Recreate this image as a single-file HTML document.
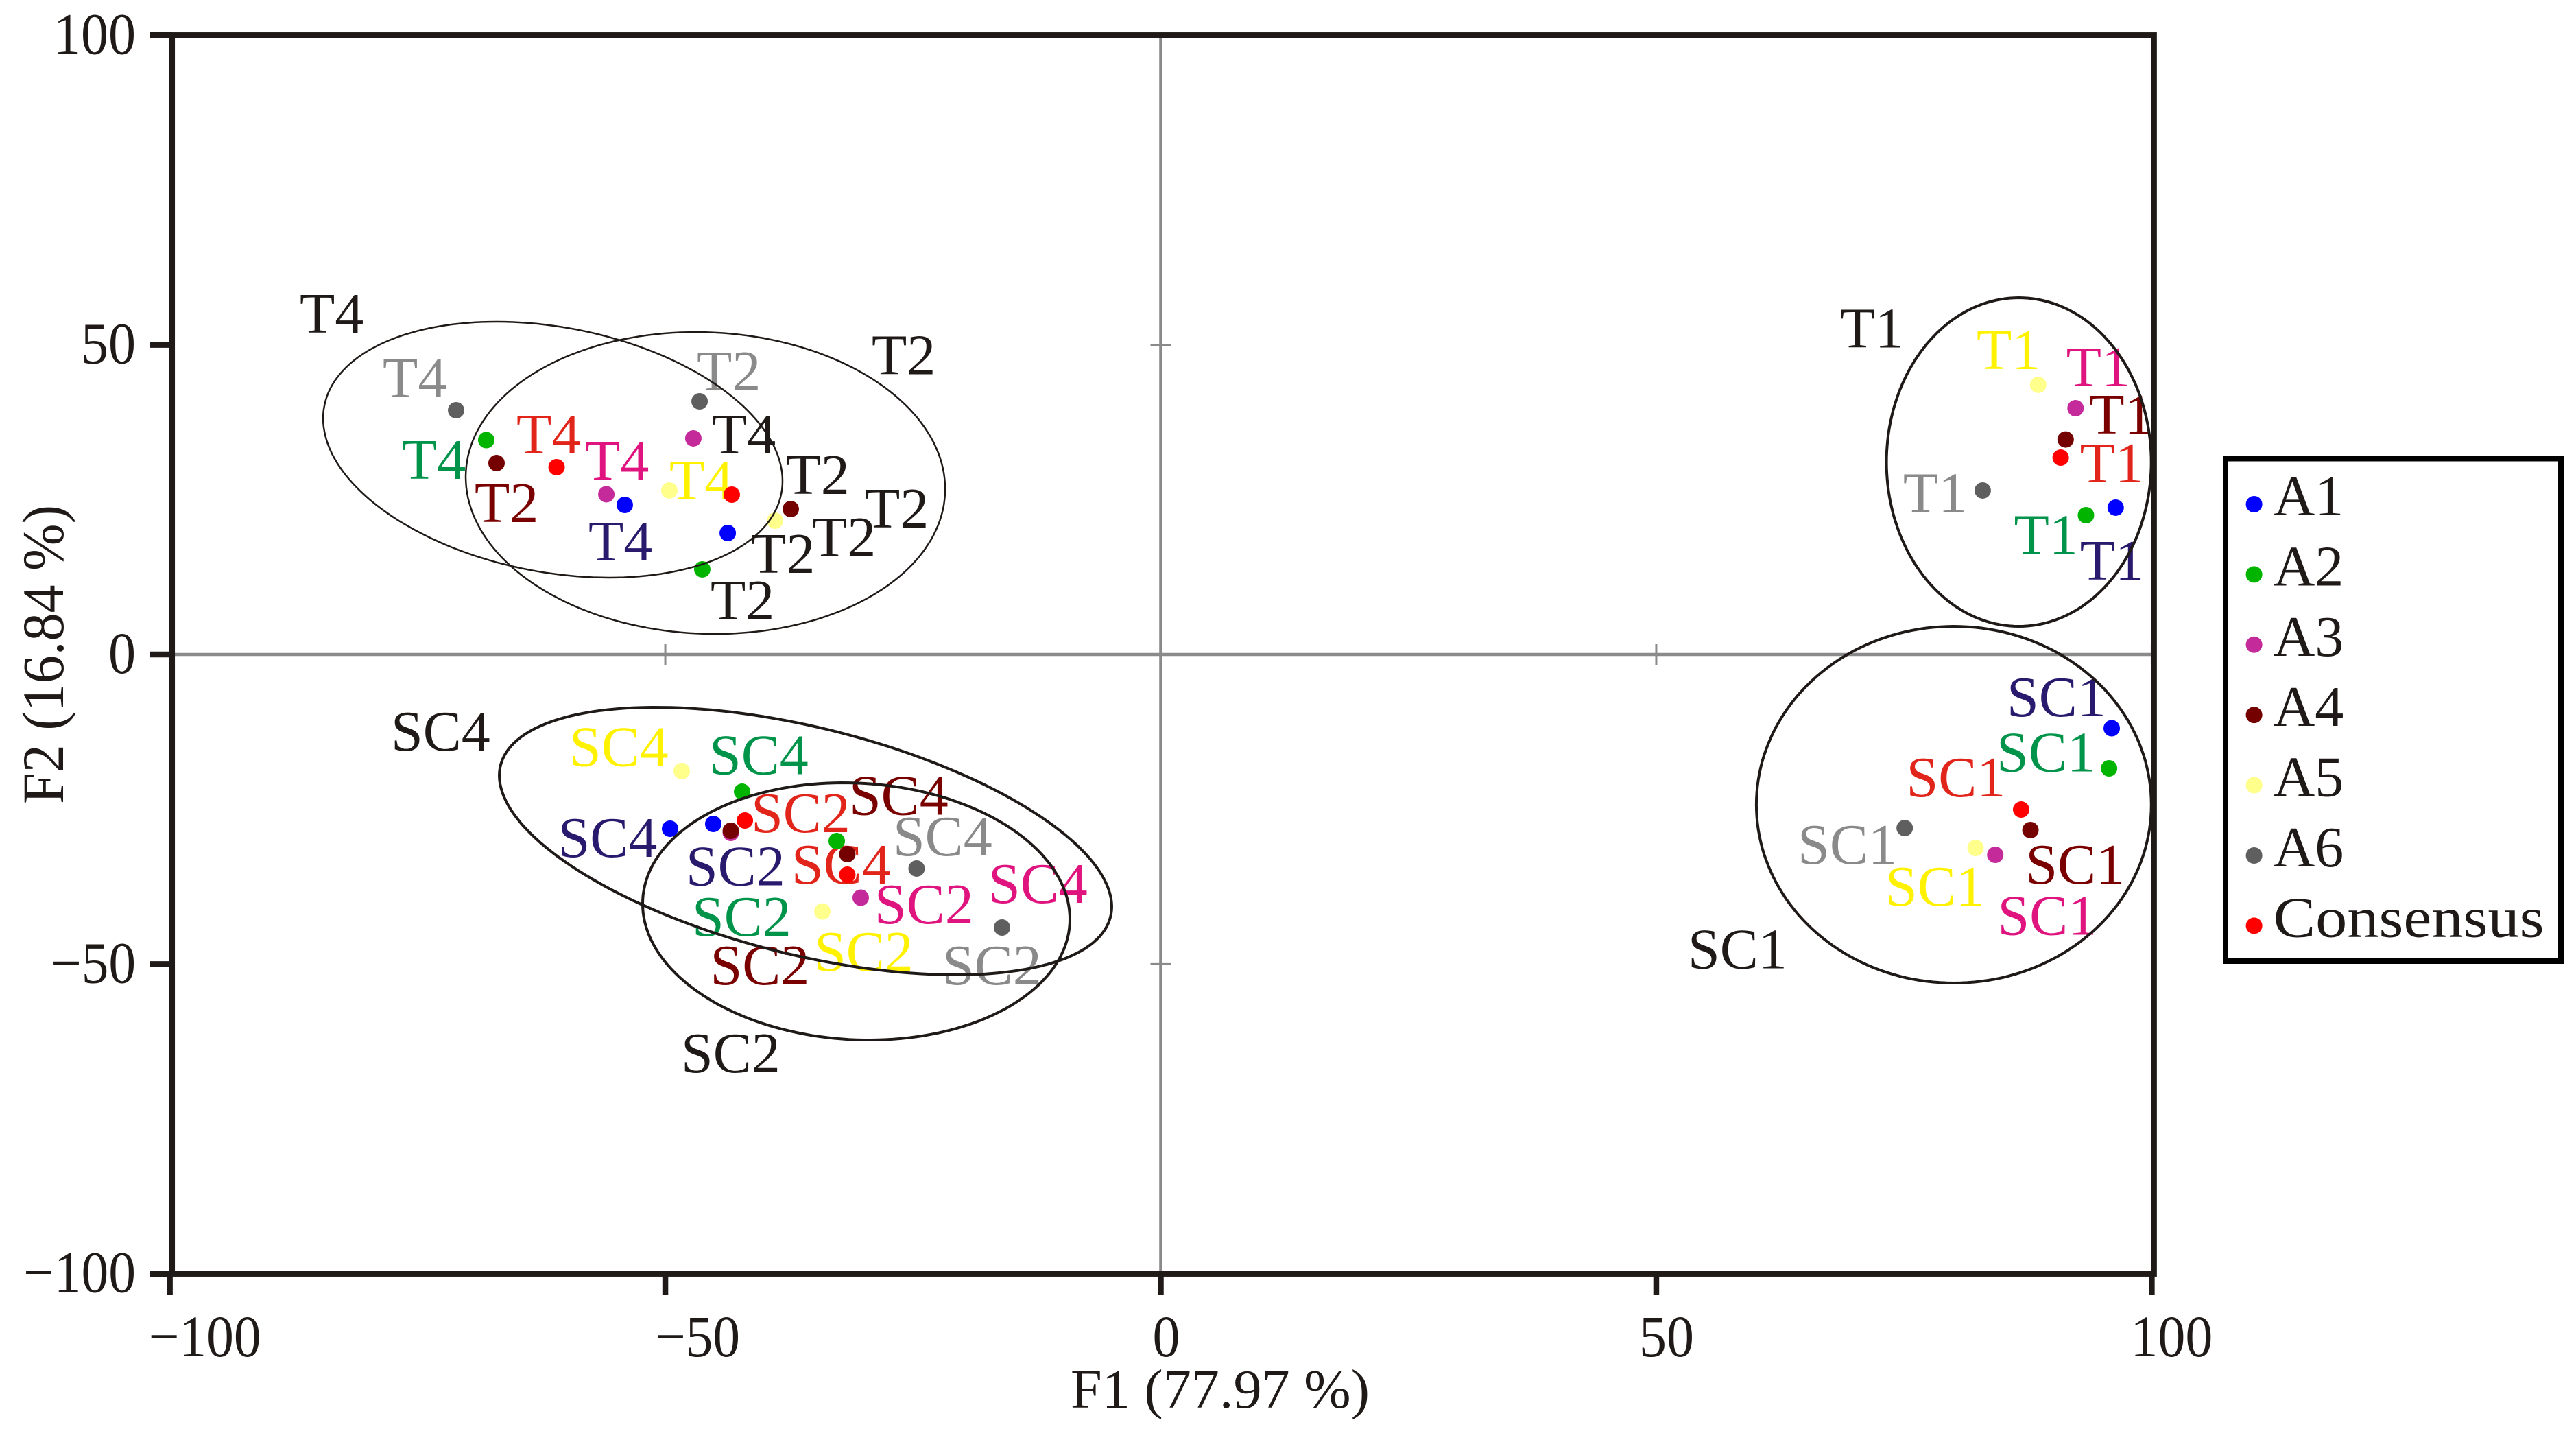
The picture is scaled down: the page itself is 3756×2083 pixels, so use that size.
<!DOCTYPE html>
<html lang="en">
<head>
<meta charset="utf-8">
<title>Projective map F1 vs F2</title>
<style>
html,body{margin:0;padding:0;background:#fff;width:3756px;height:2083px;overflow:hidden}
svg{display:block}
text{font-family:"Liberation Serif",serif;fill:#1f1a17}
</style>
</head>
<body>
<svg id="chart" xmlns="http://www.w3.org/2000/svg" width="3756" height="2083" viewBox="0 0 3756 2083">
  <rect x="0" y="0" width="3756" height="2083" fill="#ffffff"/>
  <g id="zero-lines"></g>
  <g id="labels"></g>
  <g id="dots"></g>
  <g id="ellipses"></g>
  <g id="axes"></g>
  <text x="1561" y="2052" font-size="80" textLength="436" lengthAdjust="spacingAndGlyphs">F1 (77.97 %)</text>
  <text transform="translate(92 1172) rotate(-90)" font-size="86" textLength="436" lengthAdjust="spacingAndGlyphs">F2 (16.84 %)</text>
  <rect x="3245" y="668.5" width="489" height="732.5" fill="none" stroke="#000" stroke-width="8"/>
  <g id="legend"></g>
</svg>
<script>
// Chart data
const groups = ['T1', 'SC1', 'T2', 'T4', 'SC2', 'SC4'];
const seriesNames = ['A1', 'A2', 'A3', 'A4', 'A5', 'A6', 'Consensus'];
const xTicks = [-100, -50, 0, 50, 100];
const yTicks = [100, 50, 0, -50, -100];

const a1F1 = [96.36, 95.96, -43.70, -54.09, -45.16, -49.52];
const a1F2 = [23.71, -11.91, 19.61, 24.15, -27.36, -28.14];
const a2F1 = [93.36, 95.69, -46.27, -68.07, -32.70, -42.25];
const a2F2 = [22.49, -18.39, 13.74, 34.62, -30.13, -22.16];
const a3F1 = [92.31, 84.21, -47.17, -55.95, -30.28, -43.39];
const a3F2 = [39.77, -32.35, 34.90, 25.87, -39.27, -28.80];
const a4F1 = [91.31, 87.76, -67.03, -37.34, -43.39, -31.63];
const a4F2 = [34.72, -28.36, 30.91, 23.48, -28.47, -32.24];
const a5F1 = [88.54, 82.22, -38.93, -49.59, -34.15, -48.34];
const a5F2 = [43.54, -31.24, 21.60, 26.48, -41.50, -18.83];
const a6F1 = [82.94, 75.07, -46.54, -71.11, -16.02, -24.64];
const a6F2 = [26.48, -28.03, 40.88, 39.44, -44.09, -34.56];
const consensusF1 = [90.81, 86.82, -43.29, -60.97, -41.97, -31.63];
const consensusF2 = [31.79, -25.04, 25.81, 30.24, -26.81, -35.56];

// Ellipses, in axis units, one entry per group
const ellipseCenterF1 = [86.59, 80.03, -45.95, -61.35, -30.73, -35.85];
const ellipseCenterF2 = [31.07, -24.26, 27.69, 33.07, -41.49, -30.13];
const ellipseHalfF1 = [13.36, 19.93, 24.19, 23.18, 21.56, 30.90];
const ellipseHalfF2 = [26.53, 28.80, 24.37, 20.66, 20.77, 21.60];
const ellipseCorrelation = [0, 0, -0.04, -0.245, -0.06, -0.49];

// Axis functions
const X0 = 1692.5, XU = 14.449, Y0 = 954, YU = 9.027;
function xAxis(v) { return X0 + v * XU; }
function yAxis(v) { return Y0 - v * YU; }

const NS = 'http://www.w3.org/2000/svg';
const BLACK = '#1f1a17';
const dotColors = ['#0000ff', '#00b400', '#c42a9a', '#750000', '#ffff8c', '#5f5f5f', '#ff0000'];
const labelInk = ['#2a1a6e', '#00934a', '#e0147f', '#7a0000', '#fff200', '#8a8a8a', '#e1251b'];
const f1Values = [a1F1, a2F1, a3F1, a4F1, a5F1, a6F1, consensusF1];
const f2Values = [a1F2, a2F2, a3F2, a4F2, a5F2, a6F2, consensusF2];

// Label placement relative to each point: pixels, series by group
const labelShift = [
  [[-52,105],[-149,-17.5],[34,58],[-53,81],[-36,89.6],[-159.4,41]],
  [[-105,56.6],[-160,4.6],[12,73],[-123,56.5],[-207,138],[-44,-25.4]],
  [[-13.6,-32],[7.2,116.5],[134.5,81],[-31,-21],[24,37.5],[379.5,102]],
  [[34.4,-8.6],[-3.2,78],[-32,86],[-115,-81],[-26,224],[6.5,-57.5]],
  [[-89.8,-23],[-127.5,84],[54,52],[0,13],[-8,86.4],[-160,-7.5]],
  [[-116,31.5],[-152,52],[-4,-16],[-107,-19],[-83,83],[-30.5,-19]],
  [[28,36],[-163.4,-19],[194,48],[-58.5,-20],[13,17],[-77.5,13]]
];
// Printed in black in the reference: T2 (all but A4, A6) and the A4 label of T4
function labelColor(s, g) {
  if (groups[g] === 'T2' && s !== 3 && s !== 5) return BLACK;
  if (groups[g] === 'T4' && s === 3) return BLACK;
  return labelInk[s];
}
// The S glyph carries more left bearing than the reference face
function bearing(text) { return text.charAt(0) === 'S' ? -4 : 0; }

// Black group captions beside each ellipse
const captionPlace = [[2682.6, 506.6], [2465, 1411.6], [1271, 545.5], [437, 485], [997, 1563], [574, 1094]];
const ellipseStroke = [4, 4, 2.5, 2.5, 4, 4];

function seg(parent, x1, y1, x2, y2, color, w) {
  const l = document.createElementNS(NS, 'line');
  l.setAttribute('x1', x1);
  l.setAttribute('y1', y1);
  l.setAttribute('x2', x2);
  l.setAttribute('y2', y2);
  l.setAttribute('stroke', color);
  l.setAttribute('stroke-width', w);
  parent.appendChild(l);
  return l;
}
function tickWidth(v) {
  return String(Math.abs(v)).length * 40 + (v < 0 ? 44 : 0);
}

const zeroG = document.getElementById('zero-lines');
const axesG = document.getElementById('axes');
const labelsG = document.getElementById('labels');
const dotsG = document.getElementById('dots');
const ellipsesG = document.getElementById('ellipses');
const legendG = document.getElementById('legend');
const GREY = '#8a8a8a';
const xMin = xAxis(xTicks[0]), xMax = xAxis(xTicks[xTicks.length - 1]);
const yMin = yAxis(yTicks[0]), yMax = yAxis(yTicks[yTicks.length - 1]);

// Grey zero lines with their small cross ticks
const hZero = seg(zeroG, xMin + 3, yAxis(0), xMax, yAxis(0), GREY, 4.6);


const vZero = seg(zeroG, xAxis(0), yMin, xAxis(0), yMax, GREY, 4.6);


xTicks.slice(1).forEach(function (t) {
  const m = seg(zeroG, xAxis(t), yAxis(0) - 15, xAxis(t), yAxis(0) + 15, GREY, 3);
  
  
});
yTicks.forEach(function (t) {
  const m = seg(zeroG, xAxis(0) - 15, yAxis(t), xAxis(0) + 15, yAxis(t), GREY, 3);
  
  
});

// Labels, then points, then ellipses
groups.forEach(function (group, g) {
  seriesNames.forEach(function (name, s) {
    const t = document.createElementNS(NS, 'text');
    
    
    t.setAttribute('x', xAxis(f1Values[s][g]) + labelShift[s][g][0] + bearing(group));
    t.setAttribute('y', yAxis(f2Values[s][g]) + labelShift[s][g][1]);
    t.setAttribute('font-size', '84');
    t.style.fill = labelColor(s, g);
    t.textContent = group;
    labelsG.appendChild(t);
  });
  const cap = document.createElementNS(NS, 'text');
  
  
  cap.setAttribute('x', captionPlace[g][0] + bearing(group));
  cap.setAttribute('y', captionPlace[g][1]);
  cap.setAttribute('font-size', '84');
  cap.textContent = group;
  labelsG.appendChild(cap);
});

seriesNames.forEach(function (name, s) {
  groups.forEach(function (group, g) {
    const c = document.createElementNS(NS, 'circle');
    
    
    c.setAttribute('cx', xAxis(f1Values[s][g]));
    c.setAttribute('cy', yAxis(f2Values[s][g]));
    c.setAttribute('r', '12');
    c.setAttribute('fill', dotColors[s]);
    dotsG.appendChild(c);
  });
});

groups.forEach(function (group, g) {
  const phi = Math.acos(ellipseCorrelation[g]);
  let d = '';
  const steps = 180;
  for (let i = 0; i < steps; i++) {
    const a = (i / steps) * 2 * Math.PI;
    const vx = ellipseCenterF1[g] + ellipseHalfF1[g] * Math.cos(a);
    const vy = ellipseCenterF2[g] + ellipseHalfF2[g] * Math.cos(a + phi);
    d += (i === 0 ? 'M' : 'L') + xAxis(vx).toFixed(1) + ' ' + yAxis(vy).toFixed(1);
  }
  const p = document.createElementNS(NS, 'path');
  
  
  p.setAttribute('d', d + 'Z');
  p.setAttribute('fill', 'none');
  p.setAttribute('stroke', BLACK);
  p.setAttribute('stroke-width', ellipseStroke[g]);
  ellipsesG.appendChild(p);
});

// Plot frame
const frame = document.createElementNS(NS, 'rect');


frame.setAttribute('x', xMin + 3.2);
frame.setAttribute('y', yMin);
frame.setAttribute('width', xMax - xMin);
frame.setAttribute('height', yMax - yMin);
frame.setAttribute('fill', 'none');
frame.setAttribute('stroke', BLACK);
frame.setAttribute('stroke-width', '8.5');
axesG.appendChild(frame);

// Y axis ticks and labels
yTicks.forEach(function (t) {
  const m = seg(axesG, 218, yAxis(t), xMin + 3, yAxis(t), BLACK, 8.5);
  
  
  const lab = document.createElementNS(NS, 'text');
  
  
  lab.setAttribute('x', 198 - tickWidth(t));
  lab.setAttribute('y', yAxis(t) + 27);
  lab.setAttribute('font-size', '86');
  lab.setAttribute('textLength', tickWidth(t));
  lab.setAttribute('lengthAdjust', 'spacingAndGlyphs');
  lab.textContent = String(t).replace('-', '\u2212');
  axesG.appendChild(lab);
});

// X axis ticks and labels
xTicks.forEach(function (t) {
  const m = seg(axesG, xAxis(t), yMax, xAxis(t), 1887, BLACK, 8.5);
  
  
  const lab = document.createElementNS(NS, 'text');
  
  
  const back = t === 0 ? 12 : (t === 50 ? 25 : (t === -50 ? 15 : 31));
  lab.setAttribute('x', xAxis(t) - back);
  lab.setAttribute('y', '1977');
  lab.setAttribute('font-size', '86');
  lab.setAttribute('textLength', tickWidth(t));
  lab.setAttribute('lengthAdjust', 'spacingAndGlyphs');
  lab.textContent = String(t).replace('-', '\u2212');
  axesG.appendChild(lab);
});

// Legend
seriesNames.forEach(function (name, s) {
  const rowY = 735 + s * 102.4;
  const c = document.createElementNS(NS, 'circle');
  
  
  c.setAttribute('cx', '3286.6');
  c.setAttribute('cy', rowY);
  c.setAttribute('r', '12');
  c.setAttribute('fill', dotColors[s]);
  legendG.appendChild(c);
  const t = document.createElementNS(NS, 'text');
  
  
  t.setAttribute('x', '3314.6');
  t.setAttribute('y', rowY + 16);
  t.setAttribute('font-size', '84');
  if (name === 'Consensus') {
    t.setAttribute('textLength', '395');
    t.setAttribute('lengthAdjust', 'spacingAndGlyphs');
  }
  t.textContent = name;
  legendG.appendChild(t);
});
</script>
</body>
</html>
